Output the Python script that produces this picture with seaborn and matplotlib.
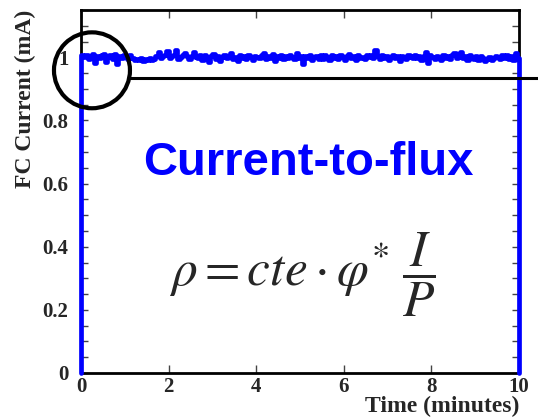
import numpy as np
import pandas as pd
import matplotlib
matplotlib.use("Agg")
import matplotlib.pyplot as plt
from matplotlib.patches import Ellipse
from matplotlib.ticker import MultipleLocator, FixedLocator
import seaborn as sns

# Faraday-cup current, one reading per time bin over 10 minutes (mA)
current_ma = [
    1.006, 1.001, 1.009, 0.995, 1.004, 1.011, 0.981, 1.003, 0.998, 1.008,
    1.012, 0.985, 1.001, 1.007, 0.996, 1.010, 0.978, 1.004, 0.999, 1.009,
    1.003, 0.994, 1.007, 0.998, 0.991, 0.996, 0.993, 0.998, 0.990, 0.995,
    0.993, 0.999, 0.991, 0.996, 1.003, 1.017, 0.998, 1.004, 1.006, 1.021,
    0.997, 1.003, 1.009, 1.024, 0.994, 1.001, 1.007, 1.014, 1.005, 0.995,
    1.004, 1.018, 1.002, 0.998, 1.009, 0.991, 1.006, 1.001, 0.986, 1.004,
    1.011, 0.995, 1.003, 0.989, 1.000, 1.008, 0.997, 1.004, 1.013, 0.994,
    1.001, 0.987, 1.006, 0.998, 1.003, 0.995, 1.009, 1.001, 0.992, 1.004,
    1.000, 0.997, 1.006, 1.015, 0.995, 1.003, 0.998, 1.010, 0.990, 1.004,
    0.998, 1.009, 0.994, 1.003, 0.997, 1.006, 1.001, 0.995, 1.013, 0.997,
    1.004, 0.979, 1.003, 0.998, 1.008, 0.993, 1.001, 1.005, 0.996, 1.008,
    0.995, 1.006, 1.001, 0.992, 1.009, 0.998, 1.003, 0.995, 1.006, 1.000,
    0.992, 1.004, 1.012, 0.997, 1.003, 0.993, 1.008, 0.998, 1.001, 0.995,
    1.006, 1.000, 1.009, 0.997, 1.022, 1.003, 0.995, 1.006, 0.998, 1.004,
    0.993, 1.001, 1.008, 0.997, 1.003, 0.990, 1.004, 1.000, 0.995, 1.006,
    1.001, 0.997, 1.009, 0.998, 1.004, 0.993, 1.003, 1.017, 0.982, 1.006,
    1.000, 0.995, 1.004, 1.001, 0.993, 1.008, 0.998, 1.003, 0.996, 1.006,
    1.013, 0.998, 1.004, 1.017, 0.997, 1.003, 0.993, 1.009, 1.001, 0.996,
    1.004, 0.992, 1.003, 0.998, 0.990, 0.995, 1.001, 0.993, 0.998, 1.004,
    1.000, 0.995, 1.006, 0.998, 1.009, 0.996, 1.003, 0.993, 1.014, 0.998,
]
t_start, t_end = 0.0, 10.0
threshold_ma = 0.934
threshold_from = 1.12
threshold_to = 10.45
circle_center = (0.25, 0.959)

x_ticks = [0, 2, 4, 6, 8, 10]
y_ticks = [0, 0.2, 0.4, 0.6, 0.8, 1.0]
y_ticklabels = ["0", "0.2", "0.4", "0.6", "0.8", "1"]

# histogram outline: rises from zero at t=0 and falls back at t=10
n = len(current_ma)
edges = np.linspace(t_start, t_end, n + 1)
xs = [t_start]
ys = [0.0]
for i, v in enumerate(current_ma):
    xs += [edges[i], edges[i + 1]]
    ys += [v, v]
xs.append(t_end)
ys.append(0.0)
df = pd.DataFrame({"t": xs, "I": ys})

sns.set_style("ticks")
plt.rcParams["font.family"] = ["Liberation Serif", "DejaVu Serif"]
plt.rcParams["mathtext.fontset"] = "stix"

fig = plt.figure(figsize=(5.38, 4.19), dpi=100)
ax = fig.add_axes([0.1506, 0.1098, 0.8141, 0.8663])

sns.lineplot(data=df, x="t", y="I", estimator=None, sort=False,
             color="#0000ff", linewidth=3.4, ax=ax, zorder=3, clip_on=False)

ax.set_xlim(0, 10)
ax.set_ylim(0, 1.15)

for s in ax.spines.values():
    s.set_linewidth(2.0)
    s.set_color("black")

ax.xaxis.set_major_locator(FixedLocator(x_ticks))
ax.yaxis.set_major_locator(FixedLocator(y_ticks))
ax.yaxis.set_minor_locator(MultipleLocator(0.05))
ax.set_yticklabels(y_ticklabels)
ax.tick_params(axis="both", which="both", direction="in", top=True, right=True,
               width=1.0, color="#444444")
ax.tick_params(axis="x", which="major", length=6, pad=3, labelsize=15)
ax.tick_params(axis="y", which="major", length=5, pad=9, labelsize=15)
ax.tick_params(axis="y", which="minor", length=5)
for lab in ax.get_xticklabels() + ax.get_yticklabels():
    lab.set_fontweight("bold")

ax.set_xlabel("Time (minutes)", fontsize=17, fontweight="bold", loc="right", labelpad=-1)
ax.set_ylabel("FC Current (mA)", fontsize=17, fontweight="bold", loc="top", labelpad=5)

# marked start region and reference level
ax.add_patch(Ellipse(circle_center, width=1.735, height=0.2405, fill=False,
                     edgecolor="black", linewidth=3.0, clip_on=False, zorder=5))
ax.plot([threshold_from, threshold_to], [threshold_ma, threshold_ma],
        color="black", linewidth=2.2, clip_on=False, zorder=4)

ax.text(0.518, 0.578, "Current-to-flux", transform=ax.transAxes,
        ha="center", va="center", color="#0000ff", fontsize=34,
        fontweight="bold", family=["Liberation Sans", "DejaVu Sans"])
ax.text(0.505, 0.27, r"$\rho = cte\cdot\varphi^{*}\;\dfrac{I}{P}$",
        transform=ax.transAxes, ha="center", va="center", fontsize=37)

fig.savefig("out.png", dpi=100)
